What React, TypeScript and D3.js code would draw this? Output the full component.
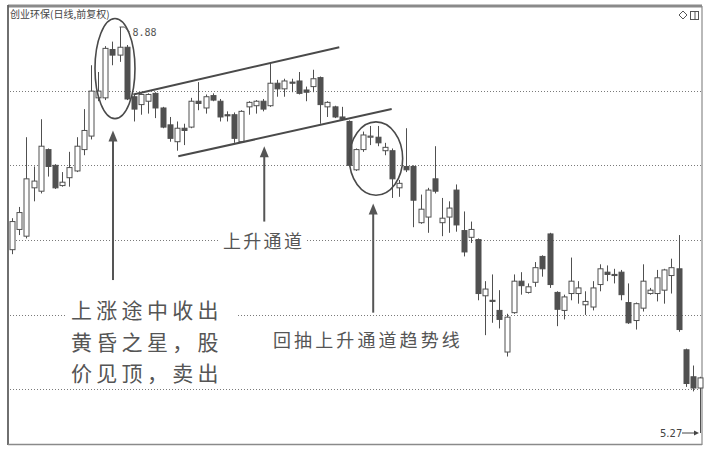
import React from 'react';
import * as d3 from 'd3';

// ---- data (daily K-line, 创业环保) ----
const opens = [6.90,7.08,7.02,7.45,7.42,7.79,7.65,7.47,7.54,7.60, 7.79,7.91,8.25,8.25,8.68,8.63,8.70,8.26,8.19,8.22, 8.29,8.16,8.01,7.86,7.98,7.99,8.22,8.16,8.27,8.22, 8.10,8.10,7.86,8.17,8.18,8.22,8.18,8.38,8.33,8.39, 8.40,8.32,8.35,8.43,8.17,8.17,8.08,8.04,7.61,7.79, 7.90,7.90,7.78,7.78,7.45,7.64,7.64,7.14,7.19,7.53, 7.14,7.19,7.43,7.07,7.01,6.99,6.49,6.45,6.36,5.99, 6.34,6.62,6.52,6.61,6.84,7.04,6.52,6.36,6.51,6.51, 6.41,6.39,6.59,6.70,6.68,6.70,6.43,6.27,6.38,6.51, 6.51,6.54,6.67,6.73,6.01,5.77,5.67];
const highs = [7.18,7.28,7.90,7.64,8.06,7.80,7.66,7.59,7.77,7.90, 8.15,8.54,8.48,8.71,8.75,8.88,8.72,8.28,8.29,8.29, 8.30,8.17,8.08,8.04,8.02,8.25,8.39,8.28,8.29,8.24, 8.13,8.12,8.14,8.22,8.23,8.24,8.56,8.41,8.42,8.42, 8.48,8.35,8.50,8.44,8.22,8.18,8.17,8.05,7.80,7.95, 8.00,8.00,7.85,7.80,7.52,7.98,7.65,7.39,7.45,7.82, 7.36,7.33,7.48,7.24,7.15,7.00,6.62,6.68,6.54,6.33, 6.68,6.70,6.60,6.79,6.85,7.05,6.53,6.50,6.83,6.62, 6.53,6.62,6.77,6.76,6.73,6.72,6.60,6.43,6.77,6.56, 6.72,6.73,6.82,7.03,6.02,5.87,5.77];
const lows = [6.86,7.03,7.00,7.33,7.40,7.55,7.44,7.46,7.46,7.59, 7.74,7.88,8.22,8.23,8.54,8.57,8.23,8.04,8.10,8.11, 8.07,7.98,7.86,7.78,7.83,7.98,8.14,8.11,8.22,8.04, 8.04,7.85,7.85,8.10,8.11,8.13,8.17,8.26,8.26,8.30, 8.28,8.22,8.30,8.02,8.08,8.07,8.05,7.64,7.60,7.77, 7.83,7.82,7.74,7.36,7.37,7.59,7.10,7.13,7.05,7.40, 7.02,7.05,7.06,6.84,6.96,6.45,6.14,6.25,6.20,5.95, 6.33,6.50,6.51,6.57,6.66,6.56,6.22,6.28,6.45,6.42, 6.32,6.36,6.53,6.62,6.60,6.45,6.24,6.19,6.35,6.50, 6.44,6.42,6.51,6.17,5.68,5.64,5.27];
const closes = [7.15,7.23,7.53,7.51,7.82,7.64,7.45,7.50,7.63,7.82, 7.96,8.31,8.31,8.69,8.63,8.70,8.24,8.15,8.28,8.28, 8.16,7.99,7.89,7.98,7.96,8.22,8.20,8.26,8.23,8.08, 8.09,7.89,8.13,8.21,8.22,8.15,8.38,8.33,8.40,8.38, 8.29,8.30,8.42,8.19,8.21,8.08,8.06,7.65,7.79,7.92, 7.91,7.85,7.81,7.53,7.49,7.61,7.34,7.26,7.43,7.42, 7.18,7.27,7.12,6.88,7.08,6.51,6.55,6.44,6.28,6.30, 6.62,6.58,6.57,6.74,6.73,6.59,6.37,6.48,6.62,6.56, 6.44,6.56,6.73,6.68,6.67,6.50,6.25,6.42,6.62,6.54, 6.65,6.72,6.74,6.19,5.71,5.67,5.76];
const days = opens.map((_, i) => i);

const gridPrices = [8.31, 7.65, 6.99, 6.32, 5.66];
const titleText = '创业环保(日线,前复权)';
const maxLabel = '8.88';
const minLabel = '5.27';

// annotations in data space: [dayIndex, price]
const channelUpper: [number, number][] = [[16.93, 8.28], [45.67, 8.70]];
const channelLower: [number, number][] = [[23.2, 7.73], [52.98, 8.15]];
const ellipses = [
  { cx: 14.37, cy: 8.51, rx: 2.79, ry: 0.445 },
  { cx: 50.79, cy: 7.71, rx: 3.72, ry: 0.326 },
];
const arrows = [
  { x: 14.09, tip: 7.96, bottom: 6.63 },
  { x: 35.2, tip: 7.82, bottom: 7.15 },
  { x: 50.4, tip: 7.31, bottom: 6.34 },
];
const note1 = ['上涨途中收出', '黄昏之星，股', '价见顶，卖出'];
const note2 = '上升通道';
const note3 = '回抽上升通道趋势线';

const W = 710, H = 449;
const INK = '#505050';
const CJK = '"Noto Sans CJK SC", "Noto Sans", sans-serif';

export default function App() {
  const x = d3.scaleLinear().domain([0, 96]).range([12, 700]);
  const y = d3.scaleLinear().domain([5.27, 8.88]).range([433, 27]);
  const bw = 5;
  const line = d3.line<[number, number]>().x(d => x(d[0])).y(d => y(d[1]));
  const hiIdx = highs.indexOf(d3.max(highs)!);
  const loIdx = lows.indexOf(d3.min(lows)!);
  const hx = x(hiIdx), hy = y(highs[hiIdx]);
  const lx = x(loIdx), ly = y(lows[loIdx]);

  return (
    <svg width={W} height={H} style={{ position: 'absolute', left: 0, top: 0, background: '#fff' }}>
      <rect x={0} y={0} width={W} height={H} fill="#fff" />
      {/* frame */}
      <line x1={8} y1={6} x2={702} y2={6} stroke="#8a8a8a" strokeWidth={3} />
      <line x1={8} y1={5} x2={8} y2={445} stroke="#606060" strokeWidth={1.8} />
      <line x1={702} y1={6} x2={702} y2={445} stroke="#8a8a8a" strokeWidth={1.2} />
      <line x1={8} y1={444.5} x2={702} y2={444.5} stroke="#8a8a8a" strokeWidth={1.5} />
      {/* title */}
      <text x={10} y={18} fontSize={10} fontFamily={CJK} fill="#444">{titleText}</text>
      {/* top-right icons */}
      <path d="M683,11 L687,15 L683,19 L679,15 Z" fill="none" stroke="#555" strokeWidth={1} />
      <rect x={690.5} y={11.5} width={8} height={8} fill="none" stroke="#555" strokeWidth={1} />
      <line x1={695} y1={11.5} x2={695} y2={19.5} stroke="#555" strokeWidth={1} />
      {/* grid */}
      {gridPrices.map((p, i) => (
        <line key={i} x1={10} x2={701} y1={Math.round(y(p)) + 0.5} y2={Math.round(y(p)) + 0.5}
          stroke="#7a7a7a" strokeWidth={1} strokeDasharray="1,2" />
      ))}
      {/* candles */}
      {days.map(i => {
        const o = opens[i], c = closes[i];
        const up = c >= o;
        const cx = Math.round(x(i)) + 0.5;
        const top = y(Math.max(o, c));
        const bot = y(Math.min(o, c));
        const h = Math.max(1, bot - top);
        return (
          <g key={i}>
            <line x1={cx} x2={cx} y1={y(highs[i])} y2={y(lows[i])} stroke={INK} strokeWidth={1} />
            <rect x={cx - bw / 2} y={top} width={bw} height={h}
              fill={up ? '#fff' : INK} stroke={INK} strokeWidth={1} />
          </g>
        );
      })}
      {/* channel lines */}
      <path d={line(channelUpper)!} stroke="#4a4a4a" strokeWidth={2} fill="none" />
      <path d={line(channelLower)!} stroke="#4a4a4a" strokeWidth={2} fill="none" />
      {/* ellipses */}
      {ellipses.map((e, i) => (
        <ellipse key={i} cx={x(e.cx)} cy={y(e.cy)} rx={x(e.rx) - x(0)} ry={y(0) - y(e.ry)}
          fill="none" stroke="#4a4a4a" strokeWidth={1.6} />
      ))}
      {/* arrows */}
      {arrows.map((a, i) => {
        const ax = x(a.x), ty = y(a.tip), by = y(a.bottom);
        return (
          <g key={i}>
            <line x1={ax} x2={ax} y1={ty + 8} y2={by} stroke="#555" strokeWidth={2} />
            <path d={`M${ax},${ty} L${ax - 4.5},${ty + 11} L${ax + 4.5},${ty + 11} Z`} fill="#555" />
          </g>
        );
      })}
      {/* max marker */}
      <polyline points={`${hx},${hy} ${hx + 5},${hy} ${hx + 10},${hy + 5}`} fill="none" stroke="#555" strokeWidth={1} />
      <text x={hx + 13} y={hy + 9} fontSize={10} fontFamily="'DejaVu Sans Mono', monospace" fill="#555">{maxLabel}</text>
      {/* min marker */}
      <text x={lx - 40} y={ly + 4} fontSize={10} fontFamily="'DejaVu Sans', sans-serif" fill="#444">{minLabel}</text>
      <line x1={lx - 18} x2={lx - 3} y1={ly} y2={ly} stroke="#444" strokeWidth={1} />
      <path d={`M${lx - 1},${ly} L${lx - 6},${ly - 2.5} L${lx - 6},${ly + 2.5} Z`} fill="#444" />
      {/* notes */}
      <rect x={66} y={294} width={172} height={94} fill="#fff" />
      {note1.map((t, i) => (
        <text key={i} x={71} y={309 + i * 31.6} dominantBaseline="central" fontSize={21} letterSpacing={4.3}
          fontFamily={CJK} fill="#555">{t}</text>
      ))}
      <rect x={219} y={229} width={88} height={21} fill="#fff" />
      <text x={223} y={239.5} dominantBaseline="central" fontSize={18} letterSpacing={2.3} fontFamily={CJK} fill="#555">{note2}</text>
      <rect x={269} y={328} width={198} height={22} fill="#fff" />
      <text x={273} y={338.5} dominantBaseline="central" fontSize={18} letterSpacing={3.1} fontFamily={CJK} fill="#555">{note3}</text>
    </svg>
  );
}
